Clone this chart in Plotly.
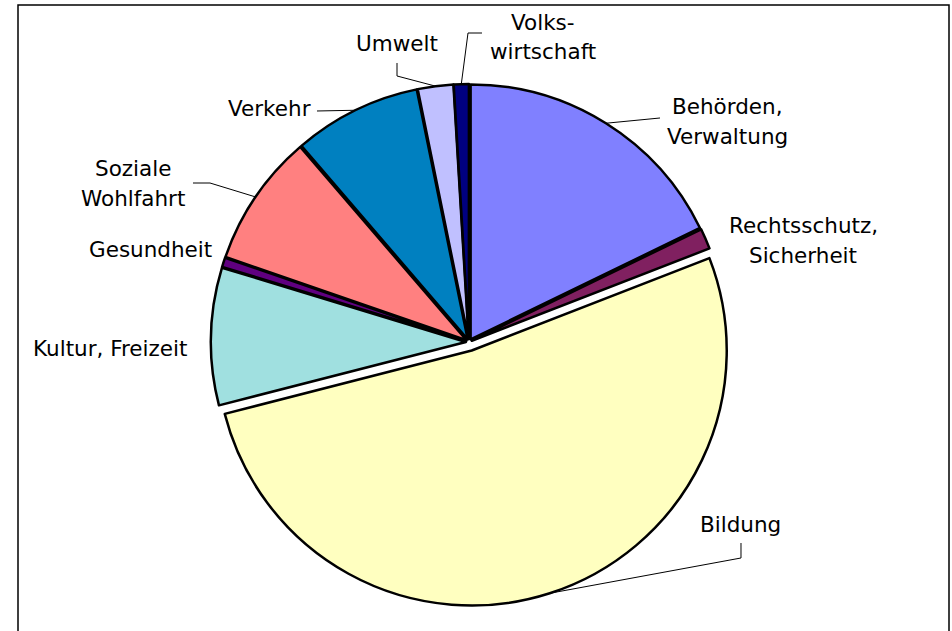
import math
import plotly.graph_objects as go

# ---- data ----
categories = ["Behörden, Verwaltung", "Rechtsschutz, Sicherheit", "Bildung",
              "Kultur, Freizeit", "Gesundheit", "Soziale Wohlfahrt",
              "Verkehr", "Umwelt", "Volkswirtschaft"]
label_text = ["Behörden,<br>Verwaltung", "Rechtsschutz,<br>Sicherheit", "Bildung",
              "Kultur, Freizeit", "Gesundheit", "Soziale<br>Wohlfahrt",
              "Verkehr", "Umwelt", "Volks-<br>wirtschaft"]
values = [17.8, 1.3, 51.9, 8.7, 0.6, 8.4, 8.1, 2.25, 0.95]

# ---- style ----
colors = ["#8080FF", "#802060", "#FFFFC0", "#A0E0E0", "#600080",
          "#FF8080", "#0080C0", "#C0C0FF", "#000080"]
pulls = [0.012, 0.012, 0.035, 0.012, 0.012, 0.012, 0.012, 0.012, 0.012]

W, H = 952, 631
CX, CY, R = 469, 342, 255          # pie centre / radius in pixels
FONT = dict(family="DejaVu Sans", size=21.5, color="black")
LINE_GAP = 30

# label centres (px) and leader elbow points (px) ending at the label
label_pos = [(727, 121), (803, 240), (740, 524), (110, 348), (150, 249),
             (133, 184), (269, 109), (397, 43), (543, 37)]
leader_pts = [[(660, 118)], None, [(741, 558), (741, 543)], None, None,
              [(210, 183), (193, 183)], [(317, 111)],
              [(397, 76), (397, 63)], [(468, 33), (482, 33)]]

maxpull = max(pulls)
half = R * (1 + maxpull)
dom_x = [(CX - half) / W, (CX + half) / W]
dom_y = [1 - (CY + half) / H, 1 - (CY - half) / H]


def px2paper(x, y):
    return x / W, 1 - y / H


fig = go.Figure(go.Pie(
    labels=categories, values=values, sort=False, direction="clockwise",
    rotation=0, pull=pulls, textinfo="none", hoverinfo="skip",
    marker=dict(colors=colors, line=dict(color="black", width=2.5)),
    domain=dict(x=dom_x, y=dom_y), showlegend=False,
))

shapes = [dict(type="rect", xref="paper", yref="paper",
               x0=18 / W, x1=949 / W, y0=-0.05, y1=1 - 5 / H,
               line=dict(color="black", width=1.5), layer="below")]
annotations = []
total = sum(values)
cum = 0.0
for i, v in enumerate(values):
    mid = math.radians((cum + v / 2) / total * 360)
    cum += v
    rr = R * (1 + pulls[i])
    ax = CX + rr * math.sin(mid)
    ay = CY - rr * math.cos(mid)
    if leader_pts[i]:
        pts = [(ax, ay)] + leader_pts[i]
        path = ""
        for k, (x, y) in enumerate(pts):
            px, py = px2paper(x, y)
            path += ("M" if k == 0 else " L") + f"{px:.5f},{py:.5f}"
        shapes.append(dict(type="path", xref="paper", yref="paper", path=path,
                           line=dict(color="black", width=1)))
    lines = label_text[i].split("<br>")
    n = len(lines)
    for j, t in enumerate(lines):
        cx, cy = label_pos[i]
        cy = cy + (j - (n - 1) / 2) * LINE_GAP
        lx, ly = px2paper(cx, cy)
        annotations.append(dict(x=lx, y=ly, xref="paper", yref="paper",
                                text=t, showarrow=False,
                                xanchor="center", yanchor="middle", align="center",
                                font=FONT))

fig.update_layout(width=W, height=H, margin=dict(l=0, r=0, t=0, b=0),
                  paper_bgcolor="white", plot_bgcolor="white",
                  shapes=shapes, annotations=annotations)
fig.write_html("out.html", config={"displayModeBar": False},
               post_script="document.body.style.margin='0';")
